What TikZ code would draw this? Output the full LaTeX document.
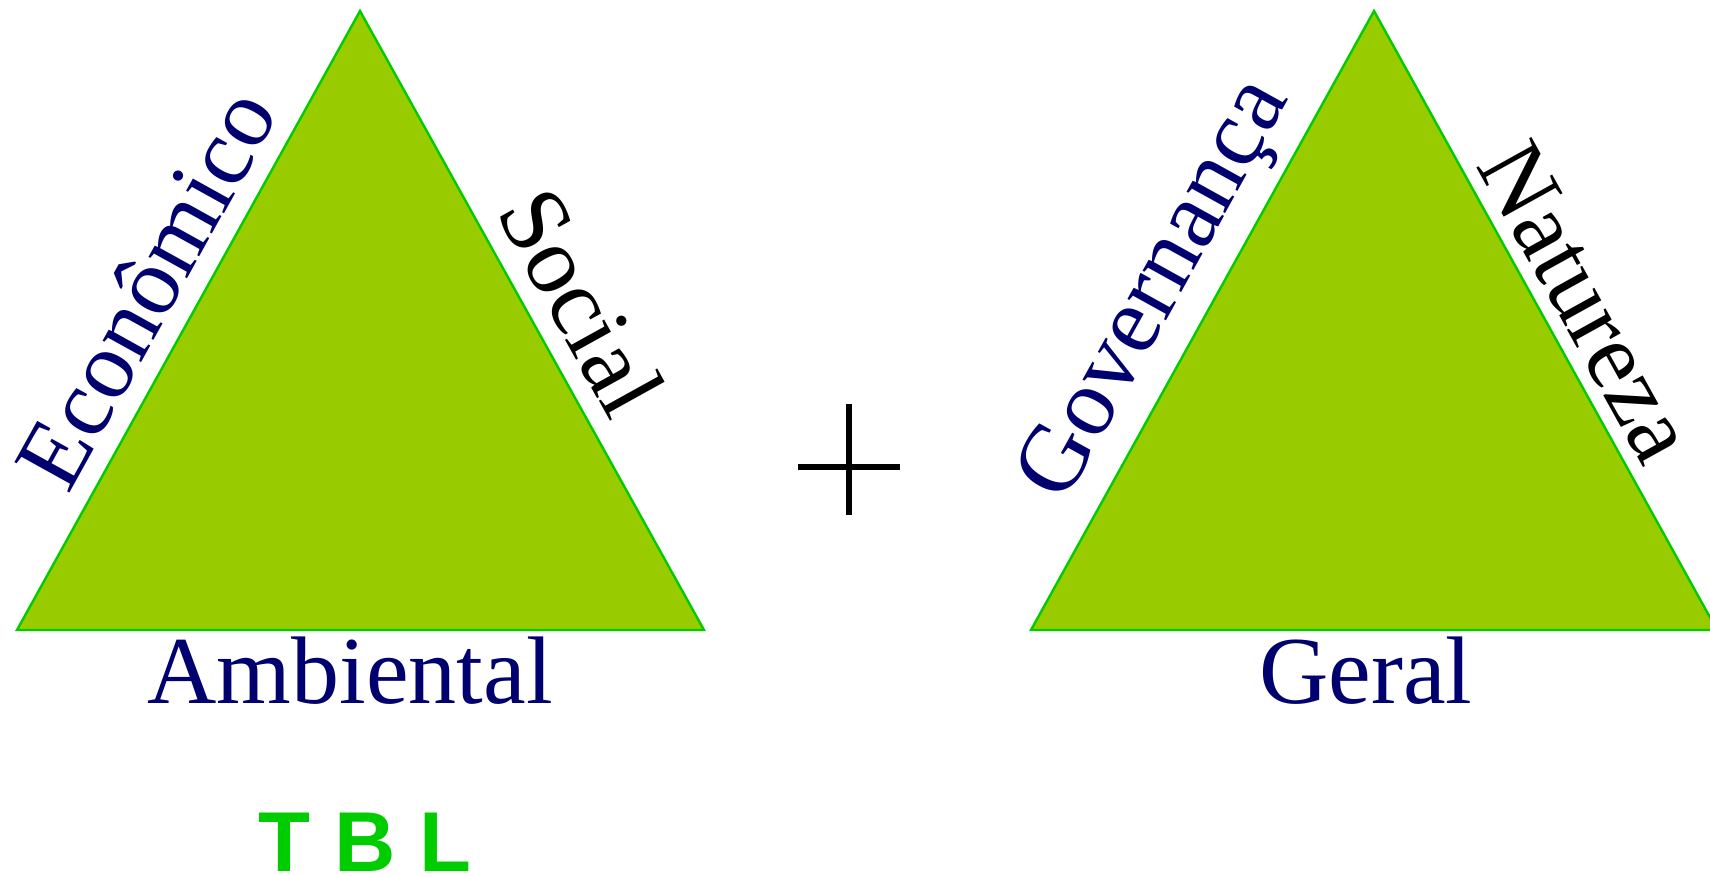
\documentclass[tikz,border=0pt]{standalone}
\usepackage{fontspec}
\setmainfont{Liberation Serif}
\newfontfamily\tblfont{Liberation Sans}
\definecolor{trifill}{RGB}{153,204,0}
\definecolor{triline}{RGB}{0,204,0}
\definecolor{navylbl}{RGB}{0,0,110}
\begin{document}
\begin{tikzpicture}[x=0.5pt,y=-0.5pt,
  tri/.style={fill=trifill,draw=triline,line width=1.2pt,line join=miter},
  lbl/.style={font=\fontsize{48}{50}\selectfont,inner sep=0pt},
  plusline/.style={line width=3pt,black},
  tblstyle/.style={font=\tblfont\bfseries\fontsize{42.5}{45}\selectfont,text=triline,inner sep=0pt}]
\useasboundingbox (0,0) rectangle (1710,875);
% left triangle
\coordinate (LA) at (360,11);
\coordinate (LB) at (17,630);
\coordinate (LC) at (704,630);
\draw[tri] (LA) -- (LB) -- (LC) -- cycle;
% right triangle
\coordinate (RA) at (1374,11);
\coordinate (RB) at (1031,630);
\coordinate (RC) at (1717,630);
\draw[tri] (RA) -- (RB) -- (RC) -- cycle;
% labels
\node[lbl,text=navylbl,rotate=61,anchor=base] (econ) at (174,304) {Econômico};
\node[lbl,text=black,rotate=-61] (soc) at (582,302) {Social};
\node[lbl,text=navylbl,anchor=base] (amb) at (350,703) {Ambiental};
\node[lbl,text=navylbl,rotate=61] (gov) at (1158,291) {Governança};
\node[lbl,text=black,rotate=-61] (nat) at (1587,302) {Natureza};
\node[lbl,text=navylbl,anchor=base] (ger) at (1366,703) {Geral};
% plus
\coordinate (pl) at (798,467);
\coordinate (pr) at (900,467);
\coordinate (pt) at (849,404);
\coordinate (pb) at (849,515);
\draw[plusline] (pl) -- (pr);
\draw[plusline] (pt) -- (pb);
% TBL
\node[tblstyle] (tbl) at (365,842) {T B L};
\end{tikzpicture}
\end{document}
